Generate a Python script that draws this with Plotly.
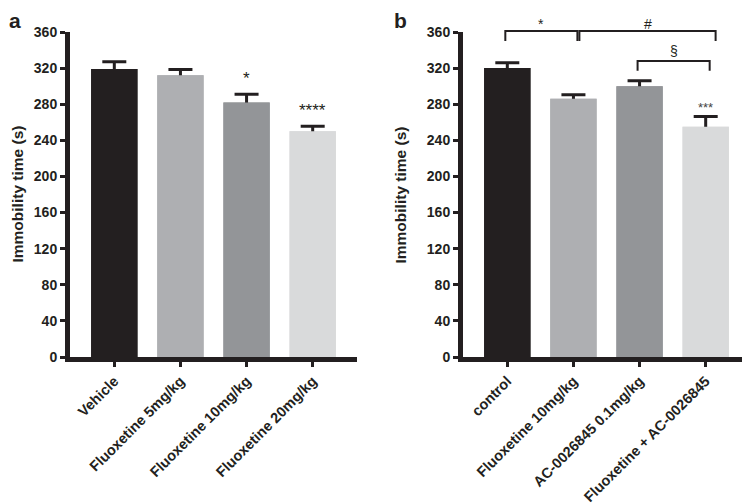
import plotly.graph_objects as go

# ---- data ----
cats_a = ["Vehicle", "Fluoxetine 5mg/kg", "Fluoxetine 10mg/kg", "Fluoxetine 20mg/kg"]
mean_a = [319, 312, 282, 250]
sem_a = [8, 6.5, 9, 5.5]
sig_a = ["", "", "*", "****"]

cats_b = ["control", "Fluoxetine 10mg/kg", "AC-0026845 0.1mg/kg", "Fluoxetine + AC-0026845"]
mean_b = [320, 286, 300, 255]
sem_b = [6, 4.5, 6, 11.5]
sig_b = ["", "", "", "***"]

y_ticks = [0, 40, 80, 120, 160, 200, 240, 280, 320, 360]

# ---- style ----
DARK = "#231f20"
colors = [DARK, "#aeafb2", "#939598", "#d9dadb"]
FONT = "Liberation Sans, Arial, sans-serif"
W, H = 750, 504
OFF = 8  # page body margin
XR = [-0.67, 3.67]
YR = [0, 360]
dom_a = [(70 - OFF) / W, (357 - OFF) / W]
dom_b = [(463 - OFF) / W, (750 - OFF) / W]
ydom = [(H - (357 - OFF)) / H, (H - (32 - OFF)) / H]


def px(v, dom):
    return dom[0] + (v - XR[0]) / (XR[1] - XR[0]) * (dom[1] - dom[0])


def py(v):
    return ydom[0] + (v - YR[0]) / (YR[1] - YR[0]) * (ydom[1] - ydom[0])


fig = go.Figure()
for cats, means, sems, xa, ya in [(cats_a, mean_a, sem_a, "x", "y"), (cats_b, mean_b, sem_b, "x2", "y2")]:
    xs = list(range(len(cats)))
    fig.add_trace(go.Bar(
        x=xs, y=means, width=0.7,
        marker=dict(color=colors, line=dict(width=0)),
        error_y=dict(type="data", array=sems, color=DARK, thickness=3, width=12),
        xaxis=xa, yaxis=ya, showlegend=False, hoverinfo="skip",
    ))
    # same bars on top to hide the lower half of the error bars (upper-only SEM)
    fig.add_trace(go.Bar(
        x=xs, y=means, width=0.7,
        marker=dict(color=colors, line=dict(width=0)),
        xaxis=xa, yaxis=ya, showlegend=False, hoverinfo="skip",
    ))

tickfont = dict(family=FONT, size=14.5, color=DARK, weight="bold")
axis_common = dict(showline=True, linewidth=5, linecolor=DARK, ticks="outside",
                   tickwidth=3, tickcolor=DARK, ticklen=5, showgrid=False, zeroline=False,
                   automargin=False)
fig.update_layout(
    template="none",
    width=W, height=H, margin=dict(l=0, r=0, t=0, b=0, autoexpand=False),
    plot_bgcolor="white", paper_bgcolor="white", barmode="overlay",
    xaxis=dict(domain=dom_a, range=XR, tickmode="array", tickvals=list(range(4)), ticktext=cats_a,
               tickangle=-45, anchor="y", tickfont=tickfont, **axis_common),
    yaxis=dict(domain=ydom, range=YR, tickmode="array", tickvals=y_ticks, anchor="x",
               tickfont=dict(tickfont, size=14), **axis_common),
    xaxis2=dict(domain=dom_b, range=XR, tickmode="array", tickvals=list(range(4)), ticktext=cats_b,
                tickangle=-45, anchor="y2", tickfont=tickfont, **axis_common),
    yaxis2=dict(domain=ydom, range=YR, tickmode="array", tickvals=y_ticks, anchor="x2",
                tickfont=dict(tickfont, size=14), **axis_common),
)

ann = []
shapes = []
# panel letters
for lab, xl in [("a", 0), ("b", 393 - OFF)]:
    ann.append(dict(text=f"<b>{lab}</b>", x=xl / W, y=1, xref="paper", yref="paper",
                    xanchor="left", yanchor="top", showarrow=False, borderpad=0,
                    font=dict(family=FONT, size=21, color=DARK)))
# y titles
for xc in [17 - OFF, 400 - OFF]:
    ann.append(dict(text="<b>Immobility time (s)</b>", x=xc / W, y=py(180), xref="paper", yref="paper",
                    xanchor="center", yanchor="middle", textangle=-90, showarrow=False, borderpad=0,
                    font=dict(family=FONT, size=15.5, color=DARK)))
# significance marks above bars
for i, s in enumerate(sig_a):
    if s:
        ann.append(dict(text=s, x=px(i, dom_a), y=py(mean_a[i] + sem_a[i] + 5), xref="paper", yref="paper",
                        xanchor="center", yanchor="bottom", showarrow=False,
                        font=dict(family=FONT, size=17, color=DARK)))
for i, s in enumerate(sig_b):
    if s:
        ann.append(dict(text=s, x=px(i, dom_b), y=py(mean_b[i] + sem_b[i] - 1), xref="paper", yref="paper",
                        xanchor="center", yanchor="bottom", showarrow=False,
                        font=dict(family=FONT, size=13, color="#444")))

# comparison brackets for panel b: (x_left, x_right, y_top, y_leg, label, label_gap)
brackets = [(-0.03, 1.06, 361, 350, "*", -3), (1.09, 3.15, 361, 350, "#", -3), (1.97, 3.06, 328, 317, "§", 0)]
for x0, x1, yt, yl, lab, gap in brackets:
    X0, X1 = px(x0, dom_b), px(x1, dom_b)
    path = f"M {X0},{py(yl)} L {X0},{py(yt)} L {X1},{py(yt)} L {X1},{py(yl)}"
    shapes.append(dict(type="path", path=path, xref="paper", yref="paper",
                       line=dict(color=DARK, width=2)))
    ann.append(dict(text=lab, x=(X0 + X1) / 2, y=py(yt + gap), xref="paper", yref="paper",
                    xanchor="center", yanchor="bottom", showarrow=False,
                    font=dict(family=FONT, size=14, color=DARK)))

fig.update_layout(annotations=ann, shapes=shapes)
fig.write_html("out.html")
